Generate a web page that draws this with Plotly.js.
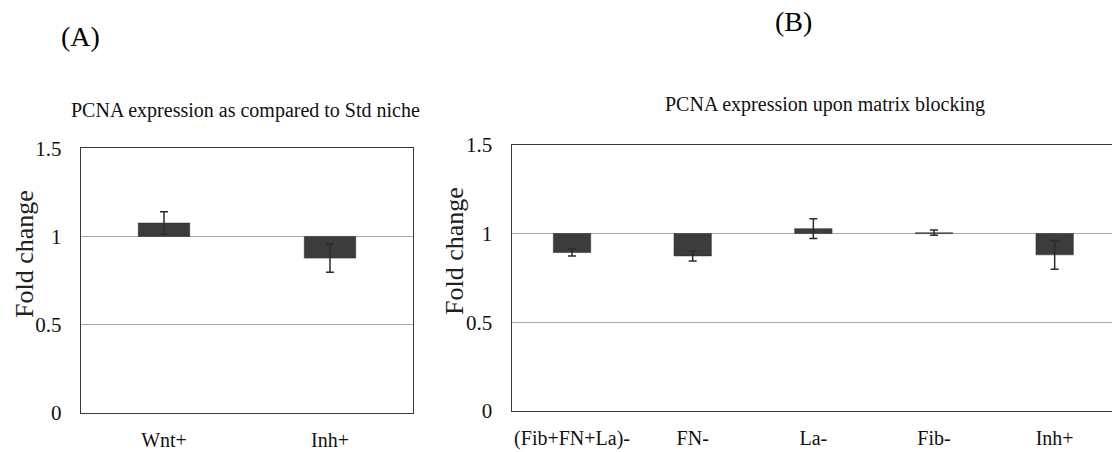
<!DOCTYPE html>
<html>
<head>
<meta charset="utf-8">
<script src="https://cdn.plot.ly/plotly-3.0.1.min.js"></script>
<style>html,body{margin:0;padding:0;overflow:hidden;background:#fff;width:1112px;height:452px;}#chart{width:1112px;height:452px;overflow:hidden;}</style>
</head>
<body>
<div id="chart"></div>
<script>
// Panel A data
const catsA = ["Wnt+", "Inh+"];
const valsA = [1.076, 0.877];
const errA = [0.064, 0.08];
// Panel B data
const catsB = ["(Fib+FN+La)-", "FN-", "La-", "Fib-", "Inh+"];
const valsB = [0.893, 0.874, 1.028, 1.005, 0.88];
const errB = [0.02, 0.028, 0.056, 0.015, 0.081];
const baseline = 1;
const yTicks = [0, 0.5, 1, 1.5];

const W = 1140, H = 452;
const px = x => x / W;
const py = y => (H - y) / H;
const FONT = "Liberation Serif";
const barColor = "#3c3c3c";

function barTrace(cats, vals, errs, xa, ya) {
  return {
    type: "bar",
    x: cats,
    y: vals.map(v => v - baseline),
    base: cats.map(() => baseline),
    xaxis: xa, yaxis: ya,
    marker: {color: barColor, line: {color: "#2a2a2a", width: 0.5}},
    error_y: {type: "data", array: errs, visible: true, color: "#2b2b2b", thickness: 1.5, width: 4},
    hoverinfo: "skip",
    showlegend: false
  };
}

const axisY = (domain, anchor) => ({
  domain: domain, anchor: anchor, range: [0, 1.5],
  tickvals: yTicks, ticktext: yTicks.map(String),
  showgrid: true, gridcolor: "#a8a8a8", gridwidth: 1.2,
  zeroline: false, showline: true, linecolor: "#3a3a3a", linewidth: 1.2, mirror: true,
  ticks: "", ticklabelstandoff: 14,
  tickfont: {family: FONT, size: 21, color: "#111"},
  fixedrange: true
});
const axisX = (domain, anchor) => ({
  domain: domain, anchor: anchor, type: "category",
  showgrid: false, zeroline: false, showline: true, linecolor: "#3a3a3a", linewidth: 1.2, mirror: true,
  ticks: "", ticklabelstandoff: 9,
  tickfont: {family: FONT, size: 20, color: "#111"},
  fixedrange: true
});

const data = [
  barTrace(catsA, valsA, errA, "x", "y"),
  barTrace(catsB, valsB, errB, "x2", "y2")
];

const layout = {
  width: W, height: H,
  margin: {l: 0, r: 0, t: 0, b: 0},
  paper_bgcolor: "#fff", plot_bgcolor: "#fff",
  bargap: 0.69,
  xaxis: axisX([px(81), px(413)], "y"),
  yaxis: axisY([py(412.7), py(148.3)], "x"),
  xaxis2: axisX([px(511.7), px(1115)], "y2"),
  yaxis2: axisY([py(410.8), py(145)], "x2"),
  annotations: [
    {text: "(A)", x: px(80), y: py(37), xref: "paper", yref: "paper", showarrow: false,
     xanchor: "center", yanchor: "middle", font: {family: FONT, size: 28, color: "#000"}},
    {text: "(B)", x: px(794), y: py(22), xref: "paper", yref: "paper", showarrow: false,
     xanchor: "center", yanchor: "middle", font: {family: FONT, size: 28, color: "#000"}},
    {text: "PCNA expression as compared to Std niche", x: px(245), y: py(110), xref: "paper", yref: "paper",
     showarrow: false, xanchor: "center", yanchor: "middle", font: {family: FONT, size: 20, color: "#111"}},
    {text: "PCNA expression upon matrix blocking", x: px(825), y: py(105), xref: "paper", yref: "paper",
     showarrow: false, xanchor: "center", yanchor: "middle", font: {family: FONT, size: 20, color: "#111"}},
    {text: "Fold change", x: px(24), y: py(254), xref: "paper", yref: "paper", textangle: -90,
     showarrow: false, xanchor: "center", yanchor: "middle", font: {family: FONT, size: 26, color: "#222"}},
    {text: "Fold change", x: px(455), y: py(251), xref: "paper", yref: "paper", textangle: -90,
     showarrow: false, xanchor: "center", yanchor: "middle", font: {family: FONT, size: 26, color: "#222"}}
  ]
};

Plotly.newPlot("chart", data, layout, {displayModeBar: false, staticPlot: true});
</script>
</body>
</html>
